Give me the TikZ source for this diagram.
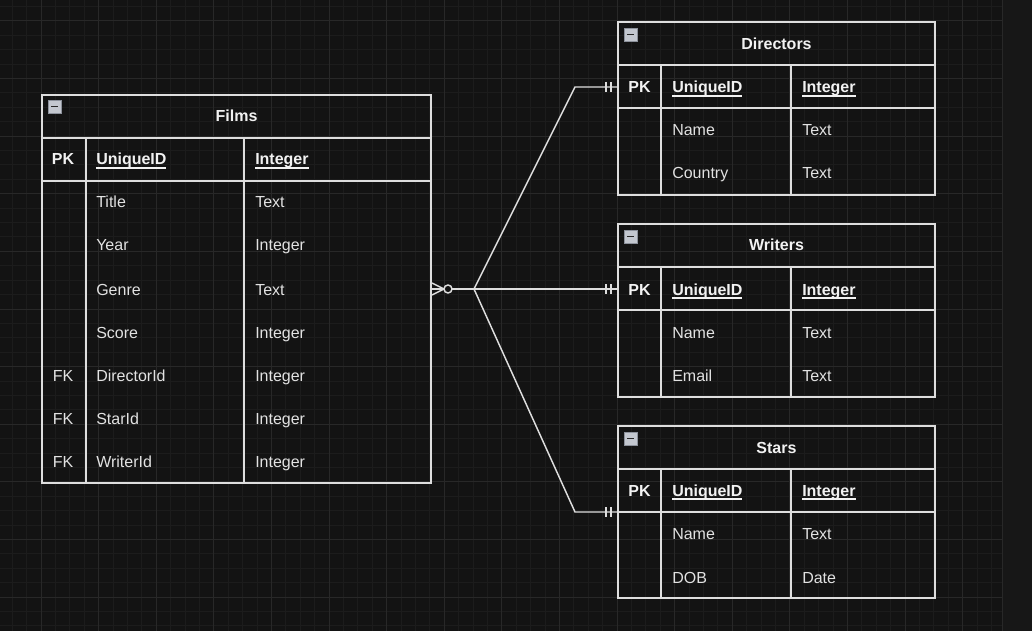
\documentclass[tikz,border=0pt]{standalone}
\usepackage{fontspec}
\setmainfont{Liberation Sans}
\definecolor{bgdark}{HTML}{131313}
\definecolor{bgside}{HTML}{171717}
\definecolor{gridminor}{HTML}{1C1C1C}
\definecolor{gridmajor}{HTML}{282828}
\definecolor{linegray}{HTML}{DEDEDE}
\definecolor{txtwhite}{HTML}{F2F2F2}
\definecolor{txtgray}{HTML}{E2E2E2}
\definecolor{iconfill}{HTML}{C3C7CF}
\definecolor{iconedge}{HTML}{8C919B}
\newlength\undlwd
\newcommand\undl[1]{\settowidth{\undlwd}{#1}\rlap{\rule[-2.8pt]{\undlwd}{1pt}}#1}
\tikzset{
  erline/.style={draw=linegray, line width=1.1pt},
  fieldtxt/.style={anchor=base west, inner sep=0pt, text=txtgray, font=\fontsize{12}{14}\selectfont},
  keytxt/.style={anchor=base, inner sep=0pt, text=txtwhite, font=\fontsize{12}{14}\selectfont\bfseries},
  pktxt/.style={anchor=base west, inner sep=0pt, text=txtwhite, font=\fontsize{12}{14}\selectfont\bfseries},
  fktxt/.style={anchor=base, inner sep=0pt, text=txtgray, font=\fontsize{12}{14}\selectfont},
  titletxt/.style={anchor=base, inner sep=0pt, text=txtwhite, font=\fontsize{12}{14}\selectfont\bfseries},
  minusbox/.pic={
    \draw[iconedge, fill=iconfill, line width=0.6pt] (0,0) rectangle (13,13);
    \draw[black!85, line width=1.4pt] (3,6.5) -- (10,6.5);
  },
  mandone/.pic={
    \draw[linegray, line width=1.1pt] (-12,-5) -- (-12,5) (-7,-5) -- (-7,5);
  },
}
\begin{document}
\begin{tikzpicture}[x=0.75pt, y=-0.75pt]
	% Canvas and grid
	\fill[bgdark] (0,0) rectangle (1032,631);
	\useasboundingbox (0,0) rectangle (1032,631);
	\foreach \i in {0,...,68} \draw[gridminor, line width=0.75pt] (12.2+14.4*\i,0) -- (12.2+14.4*\i,631);
	\foreach \j in {0,...,43} \draw[gridminor, line width=0.75pt] (0,6.6+14.4*\j) -- (1002,6.6+14.4*\j);
	\foreach \i in {0,...,16} \draw[gridmajor, line width=0.75pt] (41+57.6*\i,0) -- (41+57.6*\i,631);
	\foreach \j in {0,...,10} \draw[gridmajor, line width=0.75pt] (0,21+57.6*\j) -- (1002,21+57.6*\j);
	\fill[bgside] (1002,0) rectangle (1032,631);
	\draw[gridmajor, line width=0.75pt] (1002,0) -- (1002,631);

	% Films
	\draw[erline] (42,95) rectangle (431,483);
	\draw[erline] (42,138) -- (431,138) (42,181) -- (431,181);
	\draw[erline] (86,138) -- (86,483) (244,138) -- (244,483);
	\pic at (48,100) {minusbox};
	\node[titletxt] (films) at (236.5,122) {Films};
	\node[keytxt] (films-pk) at (63,165) {PK};
	\node[pktxt] (films-id) at (96,165) {\undl{UniqueID}};
	\node[pktxt] (films-idtype) at (255,165) {\undl{Integer}};
	\foreach \y/\a/\b in {208/Title/Text, 251/Year/Integer, 295/Genre/Text, 338/Score/Integer, 381/DirectorId/Integer, 424/StarId/Integer, 467/WriterId/Integer}
	{
		\node[fieldtxt] (films-\a) at (96,\y) {\a};
		\node[fieldtxt] (films-\a-type) at (255,\y) {\b};
	}
	\foreach \y/\n in {381/dir, 424/star, 467/writer}
		\node[fktxt] (films-fk-\n) at (63,\y) {FK};
	\coordinate (films-e) at (431,289);

	% Directors
	\draw[erline] (618,22) rectangle (935,195);
	\draw[erline] (618,65) -- (935,65) (618,108) -- (935,108);
	\draw[erline] (661,65) -- (661,195) (791,65) -- (791,195);
	\pic at (624,28) {minusbox};
	\node[titletxt] (directors) at (776.5,50) {Directors};
	\node[keytxt] (dir-pk) at (639.5,93) {PK};
	\node[pktxt] (dir-id) at (672,93) {\undl{UniqueID}};
	\node[pktxt] (dir-idtype) at (802,93) {\undl{Integer}};
	\node[fieldtxt] (dir-name) at (672,136) {Name};
	\node[fieldtxt] (dir-nametype) at (802,136) {Text};
	\node[fieldtxt] (dir-country) at (672,179) {Country};
	\node[fieldtxt] (dir-countrytype) at (802,179) {Text};
	\coordinate (dir-w) at (618,87);

	% Writers
	\draw[erline] (618,224) rectangle (935,397);
	\draw[erline] (618,267) -- (935,267) (618,310) -- (935,310);
	\draw[erline] (661,267) -- (661,397) (791,267) -- (791,397);
	\pic at (624,230) {minusbox};
	\node[titletxt] (writers) at (776.5,251) {Writers};
	\node[keytxt] (wri-pk) at (639.5,295) {PK};
	\node[pktxt] (wri-id) at (672,295) {\undl{UniqueID}};
	\node[pktxt] (wri-idtype) at (802,295) {\undl{Integer}};
	\node[fieldtxt] (wri-name) at (672,338) {Name};
	\node[fieldtxt] (wri-nametype) at (802,338) {Text};
	\node[fieldtxt] (wri-email) at (672,381) {Email};
	\node[fieldtxt] (wri-emailtype) at (802,381) {Text};
	\coordinate (wri-w) at (618,289);

	% Stars
	\draw[erline] (618,426) rectangle (935,598);
	\draw[erline] (618,469) -- (935,469) (618,512) -- (935,512);
	\draw[erline] (661,469) -- (661,598) (791,469) -- (791,598);
	\pic at (624,432) {minusbox};
	\node[titletxt] (stars) at (776.5,453) {Stars};
	\node[keytxt] (sta-pk) at (639.5,496) {PK};
	\node[pktxt] (sta-id) at (672,496) {\undl{UniqueID}};
	\node[pktxt] (sta-idtype) at (802,496) {\undl{Integer}};
	\node[fieldtxt] (sta-name) at (672,539) {Name};
	\node[fieldtxt] (sta-nametype) at (802,539) {Text};
	\node[fieldtxt] (sta-dob) at (672,583) {DOB};
	\node[fieldtxt] (sta-dobtype) at (802,583) {Date};
	\coordinate (sta-w) at (618,512);

	% Relations
	\draw[linegray, line width=1.1pt] (films-e) -- ++(43,0) -- (575,87) -- (dir-w);
	\draw[linegray, line width=1.1pt] (films-e) -- (wri-w);
	\draw[linegray, line width=1.1pt] (films-e) -- ++(43,0) -- (575,512) -- (sta-w);
	\draw[linegray, line width=1.1pt] (films-e) ++(1,-6) -- ++(12,6) -- ++(-12,6);
	\draw[linegray, fill=bgdark, line width=1.1pt] (films-e) ++(17,0) circle (4);
	\pic at (dir-w) {mandone};
	\pic at (wri-w) {mandone};
	\pic at (sta-w) {mandone};
\end{tikzpicture}
\end{document}
